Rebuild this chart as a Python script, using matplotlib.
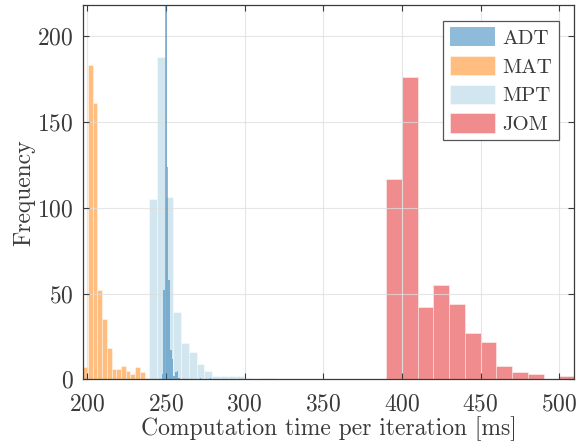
import numpy as np
import matplotlib
matplotlib.use("Agg")
import matplotlib.pyplot as plt

plt.rcParams['font.family'] = ['cmr10', 'DejaVu Serif']
plt.rcParams['mathtext.fontset'] = 'cm'
plt.rcParams['axes.formatter.use_mathtext'] = True

# histogram data: first bin edge, bin width, counts per bin
adt_start, adt_width = 247.3, 1.05
adt_counts = [3, 52, 300, 124, 58, 17, 12, 2, 4, 5, 1, 0, 0, 0, 0, 0,
              0, 0, 0, 0, 0, 0, 0, 1, 0, 0, 0, 0, 0, 1]

mat_start, mat_width = 197.5, 3.0
mat_counts = [7, 183, 161, 52, 35, 18, 6, 6, 8, 5, 3, 7, 4, 1, 0,
              1, 1, 1, 0, 0, 0, 1, 1]

mpt_start, mpt_width = 239.5, 5.0
mpt_counts = [105, 188, 106, 39, 21, 16, 9, 5, 2, 2, 2, 2, 1, 0, 1, 1]

jom_start, jom_width = 390.0, 10.0
jom_counts = [117, 176, 42, 55, 44, 27, 22, 8, 4, 3, 0, 2]

labels = ['ADT', 'MAT', 'MPT', 'JOM']
colors = ['#1f78b4', '#ff7f00', '#a6cee3', '#e31a1c']

series = [
    (adt_start, adt_width, adt_counts),
    (mat_start, mat_width, mat_counts),
    (mpt_start, mpt_width, mpt_counts),
    (jom_start, jom_width, jom_counts),
]
# ADT sits on top of the MPT bars in the reference
zorders = [3, 2, 2, 2]
edge_w = [0, 0.6, 0.6, 0.6]

text_col = '#3a3a3a'

fig = plt.figure(figsize=(5.76, 4.48), dpi=100)
ax = fig.add_axes([0.1446, 0.1533, 0.8524, 0.8349])

for (start, width, counts), lab, col, z, ew in zip(series, labels, colors,
                                                   zorders, edge_w):
    counts = np.array(counts, dtype=float)
    edges = start + width * np.arange(len(counts) + 1)
    ax.hist(edges[:-1], bins=edges, weights=counts, color=col, alpha=0.5,
            edgecolor=(1, 1, 1, 0.35), linewidth=ew, label=lab, zorder=z)

ax.set_xlim(197.5, 509.5)
ax.set_ylim(0, 218)
ax.set_xticks([200, 250, 300, 350, 400, 450, 500])
ax.set_yticks([0, 50, 100, 150, 200])

ax.grid(True, color='#dedede', linewidth=0.8, alpha=0.75, zorder=4)
ax.set_axisbelow(False)

for s in ax.spines.values():
    s.set_color(text_col)
    s.set_linewidth(0.9)
    s.set_zorder(5)
ax.tick_params(direction='in', length=4, width=0.8, top=True, right=True,
               colors=text_col, labelsize=17)
ax.tick_params(axis='x', pad=10)
ax.tick_params(axis='y', pad=7)

ax.set_xlabel('Computation time per iteration [ms]', fontsize=17,
              color=text_col, labelpad=1)
ax.set_ylabel('Frequency', fontsize=17, color=text_col, labelpad=1)

leg = ax.legend(loc='upper right', fontsize=15, fancybox=False,
                edgecolor='#555555', framealpha=1, handlelength=2.2,
                handleheight=1.05, handletextpad=0.35, labelspacing=0.38,
                borderpad=0.3, borderaxespad=0.75)
leg.get_frame().set_linewidth(0.9)
leg.set_zorder(6)
for t in leg.get_texts():
    t.set_color(text_col)

fig.savefig('out.png', dpi=100)
